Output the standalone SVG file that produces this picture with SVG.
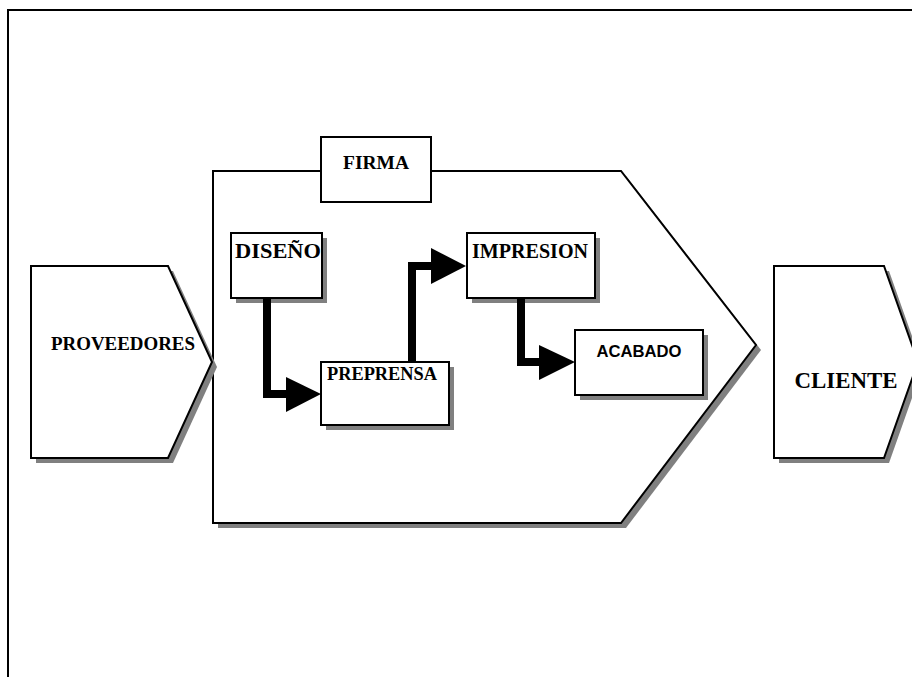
<svg xmlns="http://www.w3.org/2000/svg" width="912" height="677" viewBox="0 0 912 677">
<defs>
<style>
.shape{fill:#fff;stroke:#000;stroke-width:2;stroke-linejoin:miter}
.shadow{fill:#808080;stroke:none}
.t{font-family:"Liberation Serif","Times New Roman",serif;font-weight:bold;fill:#000}
.a{font-family:"Liberation Sans",Arial,sans-serif;font-weight:bold;fill:#000}
.conn{fill:none;stroke:#000;stroke-width:8;stroke-linejoin:miter}
.head{fill:#000;stroke:none}
</style>
</defs>
<rect x="0" y="0" width="912" height="677" fill="#fff"/>
<g id="page-border">
<path d="M8,677 V10 H912" fill="none" stroke="#000" stroke-width="2"/>
</g>
<g id="firma">
<path class="shadow" d="M218,176 H626 L761,350 L626,528 H218 Z"/>
<path class="shape" d="M213,171 H621 L756,345 L621,523 H213 Z"/>
</g>
<g id="firma-label">
<rect class="shape" x="321" y="137" width="110" height="65"/>
<text class="t" x="376" y="169" font-size="19.5" text-anchor="middle" textLength="66" lengthAdjust="spacingAndGlyphs">FIRMA</text>
</g>
<g id="proveedores">
<path class="shadow" d="M36,271 H173 L217,367 L173,463 H36 Z"/>
<path class="shape" d="M31,266 H168 L212,362 L168,458 H31 Z"/>
<text class="t" x="123" y="350" font-size="18" text-anchor="middle" textLength="144" lengthAdjust="spacingAndGlyphs">PROVEEDORES</text>
</g>
<g id="cliente">
<path class="shadow" d="M779,271 H889 L923,367 L889,463 H779 Z"/>
<path class="shape" d="M774,266 H884 L918,362 L884,458 H774 Z"/>
<text class="t" x="846" y="388" font-size="23" text-anchor="middle" textLength="103" lengthAdjust="spacingAndGlyphs">CLIENTE</text>
</g>
<g id="diseno">
<rect class="shadow" x="236" y="238" width="91" height="65"/>
<rect class="shape" x="231" y="233" width="91" height="65"/>
<text class="t" x="235" y="258" font-size="20" textLength="86" lengthAdjust="spacingAndGlyphs">DISEÑO</text>
</g>
<g id="impresion">
<rect class="shadow" x="472" y="238" width="128" height="65"/>
<rect class="shape" x="467" y="233" width="128" height="65"/>
<text class="t" x="472" y="258" font-size="20" textLength="116" lengthAdjust="spacingAndGlyphs">IMPRESION</text>
</g>
<g id="preprensa">
<rect class="shadow" x="326" y="367" width="128" height="63"/>
<rect class="shape" x="321" y="362" width="128" height="63"/>
<text class="t" x="327" y="380" font-size="18.5" textLength="110" lengthAdjust="spacingAndGlyphs">PREPRENSA</text>
</g>
<g id="acabado">
<rect class="shadow" x="580" y="335" width="128" height="65"/>
<rect class="shape" x="575" y="330" width="128" height="65"/>
<text class="a" x="639" y="357" font-size="16.5" text-anchor="middle" textLength="85" lengthAdjust="spacingAndGlyphs">ACABADO</text>
</g>
<g id="connectors">
<path class="conn" d="M267,298 V394 H290"/>
<path class="head" d="M286,377 L321,394 L286,412 Z"/>
<path class="conn" d="M412,362 V266 H435"/>
<path class="head" d="M431,248 L466,266 L431,284 Z"/>
<path class="conn" d="M521,298 V362 H543"/>
<path class="head" d="M539,345 L575,362 L539,380 Z"/>
</g>
</svg>
